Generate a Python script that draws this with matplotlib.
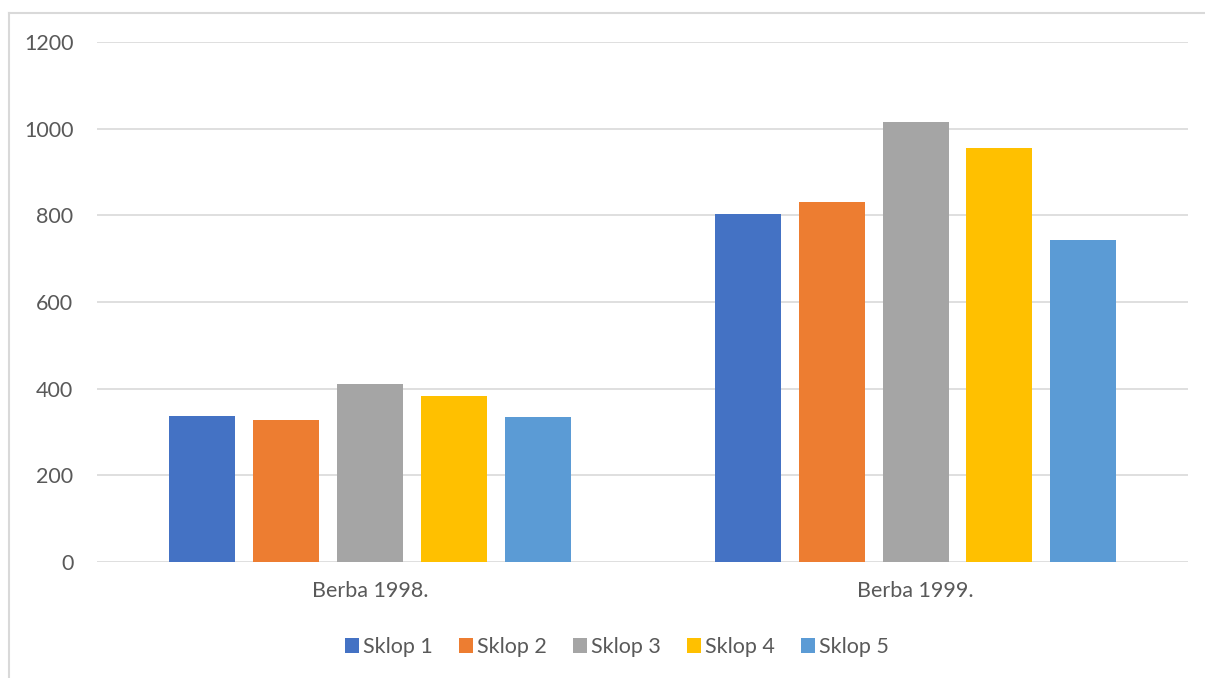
import matplotlib.pyplot as plt
import numpy as np
from matplotlib.lines import Line2D

categories = ["Berba 1998.", "Berba 1999."]
series = ["Sklop 1", "Sklop 2", "Sklop 3", "Sklop 4", "Sklop 5"]
sklop1 = [336, 803]
sklop2 = [328, 831]
sklop3 = [411, 1016]
sklop4 = [383, 956]
sklop5 = [334, 742]
values = [sklop1, sklop2, sklop3, sklop4, sklop5]
colors = ["#4472C4", "#ED7D31", "#A5A5A5", "#FFC000", "#5B9BD5"]
yticks = [0, 200, 400, 600, 800, 1000, 1200]

plt.rcParams['font.family'] = ['Lato', 'DejaVu Sans']

fig = plt.figure(figsize=(12.05, 6.78), dpi=100)
ax = fig.add_axes([97 / 1205, 1 - 562 / 678, (1188.4 - 97) / 1205, (562 - 42) / 678])

x = np.arange(len(categories))
step = 0.1537
width = 0.121
for i in range(len(series)):
    ax.bar(x + (i - 2) * step, values[i], width, color=colors[i], label=series[i], zorder=3)

ax.set_xlim(-0.5, 1.5)
ax.set_ylim(0, 1200)
ax.set_yticks(yticks)
ax.set_xticks(x)
ax.set_xticklabels(categories)
ax.yaxis.grid(True, color='#d9d9d9', linewidth=1.2, zorder=0)
ax.set_axisbelow(True)
for s in ax.spines.values():
    s.set_visible(False)
ax.tick_params(axis='both', length=0, labelsize=15.5, colors='#595959')
ax.tick_params(axis='y', pad=17)
ax.tick_params(axis='x', pad=14)

fig.legend(loc='center', bbox_to_anchor=(617 / 1205, 1 - 647 / 678), ncol=5,
           frameon=False, fontsize=15.5, labelcolor='#595959',
           handlelength=0.65, handleheight=0.65, handletextpad=0.2,
           columnspacing=1.2)

# chart area border (top and left only visible)
fig.add_artist(Line2D([9 / 1205, 1.0], [1 - 13 / 678, 1 - 13 / 678],
                      color='#d9d9d9', linewidth=1.5, transform=fig.transFigure))
fig.add_artist(Line2D([9 / 1205, 9 / 1205], [0.0, 1 - 13 / 678],
                      color='#d9d9d9', linewidth=1.5, transform=fig.transFigure))

plt.savefig("out.png", dpi=100)
plt.close()
